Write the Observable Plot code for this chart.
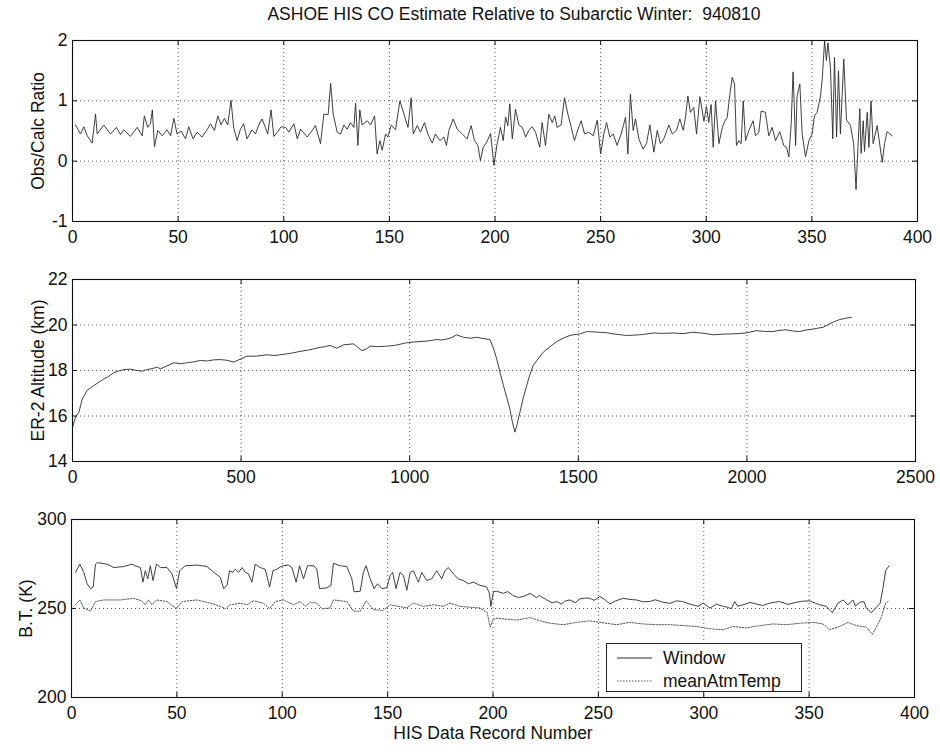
<!DOCTYPE html>
<html><head><meta charset="utf-8">
<script src="https://cdn.jsdelivr.net/npm/d3@7"></script>
<script src="https://cdn.jsdelivr.net/npm/@observablehq/plot@0.6"></script>
<style>
body{margin:0;background:#fff;}
#wrap{position:relative;width:940px;height:754px;font-family:"Liberation Sans",Arial,sans-serif;color:#111;overflow:hidden;}
#wrap svg{position:absolute;left:0;}
#title{position:absolute;top:4px;left:40px;width:948px;text-align:center;font-size:17.5px;white-space:pre;}
#legend{position:absolute;left:606px;top:643px;width:194px;height:47px;border:1px solid #222;background:#fff;font-size:17.5px;}
#legend .row{position:absolute;left:10px;height:20px;display:flex;align-items:center;}
#legend .row span{margin-left:11px;}
</style></head><body><div id="wrap"><div id="title">ASHOE HIS CO Estimate Relative to Subarctic Winter:  940810</div></div>
<script>
// ---------- data ----------
const titleText = "ASHOE HIS CO Estimate Relative to Subarctic Winter:  940810";
const ratioTicksX = [0,50,100,150,200,250,300,350,400];
const ratioTicksY = [-1,0,1,2];
const altTicksX = [0,500,1000,1500,2000,2500];
const altTicksY = [14,16,18,20,22];
const btTicksX = [0,50,100,150,200,250,300,350,400];
const btTicksY = [200,250,300];
const seriesNames = ["Window","meanAtmTemp"];

// [record, Obs/Calc ratio]
const ratioData = [[1.4,0.60],[3.8,0.45],[5.4,0.57],[7,0.42],[9.3,0.30],[10.9,0.78],[11.7,0.45],[14.8,0.60],[18,0.45],[20.8,0.56],[22.7,0.44],[24.3,0.52],[27.4,0.41],[30.6,0.56],[33,0.42],[34,0.75],[35.6,0.56],[36.9,0.62],[37.8,0.85],[38.8,0.24],[40.4,0.51],[42.4,0.42],[44.8,0.52],[46.4,0.42],[48,0.71],[49.5,0.45],[51.4,0.50],[53.5,0.37],[55,0.57],[57.1,0.37],[59,0.48],[61.3,0.40],[63.7,0.52],[65.3,0.62],[67.2,0.51],[68.8,0.75],[70.3,0.60],[71.9,0.71],[73.5,0.60],[75,1.01],[76.3,0.56],[77.9,0.34],[79.5,0.53],[81,0.62],[82.6,0.37],[85,0.52],[86.6,0.45],[88.2,0.60],[89.7,0.70],[91.3,0.56],[92.4,0.45],[94,0.85],[95.3,0.41],[97.2,0.49],[98.7,0.57],
[100.9,0.56],[102.4,0.48],[104.8,0.62],[106.4,0.37],[108,0.53],[111.1,0.40],[113.5,0.51],[115,0.59],[117.4,0.29],[119,0.78],[121,0.77],[122.2,1.29],[123.4,0.78],[125.3,0.48],[126.9,0.45],[128.5,0.60],[130,0.53],[131.6,0.64],[133.2,0.56],[134,0.96],[135.1,0.26],[136,0.85],[137.1,0.60],[139.5,0.67],[141.1,0.60],[143,0.75],[144.2,0.12],[145.5,0.34],[146.6,0.18],[148.2,0.45],[149.3,0.40],[150.9,0.60],[152.9,0.52],[155,1.00],[156.9,0.78],[158.8,0.56],[160.3,1.05],[161.3,0.45],[163.2,0.59],[164.7,0.48],[166.6,0.64],[168.2,0.45],[170.3,0.30],[171.8,0.45],[173.9,0.34],[175.8,0.40],[177,0.26],[178.2,0.51],[180.2,0.70],[182.1,0.53],[184.5,0.45],[186.8,0.37],[188.7,0.59],[190.3,0.34],[191.9,0.26],[193.1,0.01],[194.4,0.23],[196,0.31],[197.9,0.46],
[199.5,-0.07],[201,0.29],[202.6,0.56],[203.9,0.34],[205,0.73],[206.1,0.59],[207,0.95],[208.2,0.37],[209.7,0.86],[211.3,0.60],[212.9,0.56],[214.5,0.40],[216,0.51],[217.6,0.57],[219.2,0.48],[221.2,0.23],[222.3,0.64],[223.9,0.26],[225.5,0.78],[227.1,0.64],[228.3,0.75],[229.4,0.56],[231.3,0.60],[232.9,1.05],[234.5,0.78],[236.1,0.56],[237.6,0.34],[239.2,0.52],[240.8,0.67],[242.4,0.45],[244.4,0.48],[246.5,0.42],[248.4,0.68],[250,0.12],[251.5,0.45],[252.8,0.64],[254.4,0.40],[256,0.45],[257.8,0.26],[259.7,0.45],[261.8,0.73],[262.9,0.12],[264.1,1.11],[265.4,0.51],[266.5,0.70],[268.1,0.37],[270.1,0.20],[271.7,0.29],[273.3,0.60],[275.2,0.15],[276.8,0.51],[278.3,0.29],[279.9,0.37],[282.3,0.60],[283.9,0.45],[285.9,0.51],[287.5,0.70],[289.1,0.51],[290.2,0.73],[291.3,1.08],[292.5,0.81],[294.1,0.89],[295.4,0.45],[297,1.07],
[298.9,0.66],[300.1,0.91],[301.2,0.64],[302.3,0.94],[303.3,0.23],[304.4,1.00],[306,0.29],[307.6,0.56],[308.7,0.66],[309.9,0.72],[311.2,1.11],[312.3,1.39],[313.4,1.28],[314.3,0.26],[315.4,0.34],[316.5,0.29],[317.5,1.00],[318.6,0.34],[320.2,0.51],[322.2,0.67],[323.3,0.42],[324.9,0.48],[326,0.83],[328,0.81],[329.6,0.42],[331.2,0.56],[332.8,0.34],[334.8,0.49],[336.7,0.26],[338,0.23],[339.1,0.07],[340.2,0.62],[341.1,1.48],[342.3,0.26],[343,1.08],[344.3,1.28],[345.4,0.45],[347,0.07],[348.6,0.34],[350.1,0.45],[351.2,0.75],[352.5,0.81],[354.1,1.08],[354.9,1.36],[356,1.99],[356.9,1.67],[357.6,1.96],[358.8,1.55],[359.9,0.37],[360.7,1.72],[361.7,0.40],[362.6,1.50],[363.5,0.45],[365.1,1.69],[366.4,0.68],[368.3,0.59],[369.8,0.29],[370.9,-0.47],[371.9,0.29],[372.7,0.87],[373.3,0.13],[374.3,0.67],[374.9,0.16],[376.2,0.81],[377,0.23],[378,1.00],[379,0.29],[380.9,0.59],[383.3,-0.02],[384.4,0.29],[385.6,0.49],[388,0.42]];

// [record, ER-2 altitude km]
const altData = [[0,15.5],[9,15.95],[19,16.17],[29,16.75],[43,17.12],[63,17.34],[93,17.63],[105,17.72],[122,17.9],[137,17.98],[152,18.04],[170,18.06],[191,18.0],[206,17.97],[221,18.04],[236,18.08],[251,18.15],[261,18.07],[280,18.2],[300,18.34],[320,18.3],[340,18.34],[360,18.38],[379,18.44],[400,18.42],[420,18.47],[438,18.48],[458,18.45],[478,18.37],[498,18.5],[517,18.63],[545,18.63],[577,18.69],[600,18.66],[636,18.73],[655,18.78],[675,18.84],[700,18.9],[715,18.95],[735,19.02],[750,19.05],[764,19.1],[784,18.98],[804,19.13],[833,19.17],[858,18.88],[870,18.93],[883,19.07],[905,19.05],[932,19.07],[955,19.1],[991,19.22],[1010,19.25],[1031,19.27],[1055,19.3],[1080,19.36],[1095,19.34],[1110,19.38],[1125,19.45],[1139,19.57],[1159,19.46],[1180,19.42],[1199,19.46],[1220,19.4],[1238,19.36],[1248,19.0],[1258,18.51],[1268,17.9],[1278,17.34],[1288,16.8],[1297,16.31],[1305,15.7],[1312,15.29],[1318,15.6],[1327,16.17],[1337,16.8],[1347,17.34],[1356,17.8],[1366,18.22],[1380,18.5],[1396,18.8],[1416,19.05],[1436,19.27],[1455,19.42],[1475,19.54],[1490,19.58],[1505,19.61],[1525,19.71],[1540,19.7],[1564,19.68],[1585,19.66],[1603,19.61],[1620,19.58],[1643,19.54],[1660,19.55],[1682,19.57],[1700,19.6],[1722,19.65],[1750,19.63],[1781,19.65],[1810,19.62],[1840,19.68],[1870,19.64],[1900,19.57],[1930,19.6],[1959,19.61],[1980,19.63],[1998,19.65],[2028,19.75],[2050,19.72],[2077,19.71],[2095,19.76],[2117,19.79],[2135,19.74],[2156,19.71],[2175,19.78],[2196,19.82],[2210,19.86],[2226,19.9],[2245,20.05],[2260,20.15],[2275,20.24],[2295,20.3],[2310,20.34]];

// [record, Window B.T. K]
const windowData = [[1.9,270.3],[4,274.9],[5.8,270.3],[7.4,263.9],[9,261.2],[10.3,262.1],[11.4,274.9],[12.2,275.8],[16.9,274.9],[20.1,273],[24.8,273.6],[28.7,274.9],[30.3,274],[32.7,273],[33.9,264.8],[35,271.2],[36.2,266.7],[37.4,274],[38.7,265.7],[40.3,274.9],[42.2,273],[45.3,273],[47.7,269.4],[49.8,261.2],[51.3,271.2],[54,274],[59.5,274.4],[64.3,273.6],[67.5,270.3],[70.6,267.6],[72.2,261.2],[73.8,263],[75,271.2],[76.6,270.3],[77.7,272.1],[79.3,270.3],[80.9,273],[82.5,270.3],[84,269.4],[85.6,264.8],[87.2,274.9],[89.6,273],[91.9,272.1],[94,262.1],[95.6,271.2],[97.5,272.1],[99.4,273.6],[100.6,274],[103,274.4],[104.6,273],[106.6,264.8],[108.2,274],[110.1,266.7],[112,274],[114.9,274],[116.4,272.1],[117.7,261.2],[121.2,261.6],[123.1,263],[124.3,275.4],[127.5,274],[130.6,273.6],[133,266.7],[134.1,259.4],[137,259.7],[138.5,270.3],[139.8,274],[141.7,266.7],[143.6,261.2],[145.2,263.9],[147.2,261.2],[149.6,261.6],[151.2,268.5],[152.4,270.3],[154,261.2],[155.9,270.3],[157.5,268.5],[159.1,260.3],[160.7,270.3],[162.2,271.2],[164.6,264.8],[166.2,270.3],[168.6,265.7],[170.9,266.7],[173.3,271.2],[175.7,266.7],[177.2,271.2],[178.8,273],[181.2,269.4],[183.5,266.7],[185.9,265.7],[188.3,263.9],[190.7,264.8],[193.8,263],[197,262.1],[198.3,258.5],[199,251.2],[200.2,259.4],[201.8,259.7],[204.9,258.5],[207,259.5],[209.7,257.2],[212,256.2],[214.4,256.7],[217.6,258.5],[220.7,256.1],[222,257.3],[225.5,254.8],[228,253.2],[230.2,253.9],[232.6,252.5],[234,254.1],[236.5,254.8],[239,253.3],[241.3,255.4],[244,255.9],[246,255.7],[248,254.6],[250.7,256.7],[253,255.1],[255.5,252.5],[258,254.2],[261.8,255.7],[265,255.1],[268.1,254.8],[271,253.8],[274.4,253.9],[277,254.9],[280.7,253.5],[284,252.9],[287.1,254.3],[290,253.9],[293.4,252.5],[297.3,251.2],[299.7,253],[302.9,250.3],[306,252.4],[309.2,251.2],[311,250.8],[313.1,249.9],[314.7,253.9],[316,251.3],[318.7,252.1],[322,253.4],[325,252.5],[328,251.7],[331.3,253],[334,253.6],[336,253.9],[340,252.3],[343.9,253.5],[347,254.1],[350.3,254.3],[353,252.9],[355,252.1],[358.2,251.2],[361,247.6],[363.7,253],[366.1,254.8],[368.4,252.1],[370.8,254.8],[372,251.4],[374,253.5],[376,253.9],[377.1,250.3],[379.5,247.6],[381.9,250.7],[383.7,253],[385,261.2],[386.3,271.2],[387.9,274]];

// [record, meanAtmTemp B.T. K]
const meanAtmData = [[1.9,252.1],[4,254.8],[5.8,250.3],[9,248.5],[11.4,253.9],[15.3,254.8],[23.2,254.8],[29.5,255.7],[33.4,254.3],[35,252.1],[36.6,254.8],[38.2,252.1],[40.3,254.8],[45.3,253.9],[49.8,249.9],[52.4,253.9],[59.5,254.8],[65.8,253],[70.6,251.2],[73,249.9],[75.3,252.1],[80.1,253],[83.3,252.1],[86.4,254.3],[91.1,253],[94,249.9],[96.7,253.9],[100.6,254.8],[105.4,252.1],[108.5,253.9],[110.9,251.2],[113.3,253.5],[116.4,253],[118.8,249.9],[122.7,250.3],[124.3,254.8],[130.6,253.9],[133.8,248.5],[137,248.5],[139.8,254.3],[143.3,249.4],[148,248.9],[151.2,252.1],[155.1,251.2],[159.1,250.3],[162.2,253],[167,251.2],[171.7,252.1],[176.5,251.2],[179.6,253],[184.3,251.2],[189.1,250.7],[193.8,250.3],[197.3,247.6],[198.6,239.5],[200.2,244],[201.8,244.5],[206.5,244],[211.2,243.5],[217.6,244.9],[222.3,243.1],[227,241.7],[233.4,240.9],[239.7,242.2],[246,243.1],[250.7,242.2],[258.6,240.9],[265,242.2],[271.3,241.3],[277.6,240.9],[283.9,240.9],[290.2,240.4],[296.5,239.9],[302.9,238.6],[309.2,238.1],[313.9,239.9],[320.2,239.1],[326.6,240.4],[332.9,241.3],[339.2,240.9],[345.5,241.7],[351.8,242.2],[356.6,241.3],[359.7,238.1],[364.5,239.9],[368.4,242.2],[372.4,240.4],[377.1,239.5],[380,235.5],[381.9,239.5],[384.2,244.9],[386.3,253],[387.9,254.3]];

// ---------- drawing ----------
const FONT = "'Liberation Sans', Arial, sans-serif";
const FS = 17.5;
const INK = "#111";
const LINE = "#2a2a2a";
const wrap = document.getElementById("wrap");
document.getElementById("title").textContent = titleText;

const toObj = arr => arr.map(([x, y]) => ({x, y})).sort((a, b) => a.x - b.x);

function panel({top, height, mt, mb, ml, mr, xDomain, xTicks, yDomain, yTicks, ylabel, labelX = 38, lines, extra = []}) {
  const W = 940;
  const iw = W - ml - mr, ih = height - mt - mb;
  const grid = {stroke: "#444", strokeOpacity: 1, strokeWidth: 0.9, strokeDasharray: "1,3"};
  const tk = {stroke: INK, strokeWidth: 1};
  const svg = Plot.plot({
    width: W, height,
    marginTop: mt, marginBottom: mb, marginLeft: ml, marginRight: mr,
    x: {domain: xDomain},
    y: {domain: yDomain},
    style: {fontFamily: FONT, fontSize: FS + "px", color: INK, background: "transparent", overflow: "visible"},
    marks: [
      Plot.gridX(xTicks.slice(1, -1), grid),
      Plot.gridY(yTicks.slice(1, -1), grid),
      ...lines,
      Plot.frame({stroke: INK, strokeWidth: 1.1}),
      Plot.tickX(xTicks, {x: d => d, insetTop: ih - 5, ...tk}),
      Plot.tickX(xTicks, {x: d => d, insetBottom: ih - 5, ...tk}),
      Plot.tickY(yTicks, {y: d => d, insetRight: iw - 5, ...tk}),
      Plot.tickY(yTicks, {y: d => d, insetLeft: iw - 5, ...tk}),
      Plot.axisX(xTicks, {tickSize: 0, tickPadding: 9, fontSize: FS, tickFormat: d => String(d), fill: INK, label: null}),
      Plot.axisY(yTicks, {tickSize: 0, tickPadding: 5, fontSize: FS, tickFormat: d => String(d), fill: INK, label: null}),
      Plot.text([ylabel], {text: d => d, frameAnchor: "left", textAnchor: "middle", lineAnchor: "middle", dx: -(ml - labelX), rotate: -90, fontSize: FS, fill: INK}),
      ...extra
    ]
  });
  svg.style.top = top + "px";
  wrap.appendChild(svg);
}

panel({
  top: 0, height: 255, mt: 40, mb: 34, ml: 72, mr: 23,
  xDomain: [0, 400], xTicks: ratioTicksX, yDomain: [-1, 2], yTicks: ratioTicksY,
  ylabel: "Obs/Calc Ratio",
  lines: [Plot.line(toObj(ratioData), {x: "x", y: "y", stroke: LINE, strokeWidth: 0.9, clip: true})]
});

panel({
  top: 255, height: 240, mt: 24, mb: 34, ml: 72, mr: 25,
  xDomain: [0, 2500], xTicks: altTicksX, yDomain: [14, 22], yTicks: altTicksY,
  ylabel: "ER-2 Altitude (km)",
  lines: [Plot.line(toObj(altData), {x: "x", y: "y", stroke: LINE, strokeWidth: 0.9, clip: true})]
});

panel({
  top: 495, height: 259, mt: 24, mb: 57, ml: 71, mr: 26,
  xDomain: [0, 400], xTicks: btTicksX, yDomain: [200, 300], yTicks: btTicksY,
  ylabel: "B.T. (K)", labelX: 26,
  lines: [
    Plot.line(toObj(windowData), {x: "x", y: "y", stroke: LINE, strokeWidth: 0.9, clip: true}),
    Plot.line(toObj(meanAtmData), {x: "x", y: "y", stroke: "#555", strokeWidth: 1, strokeDasharray: "1.5,1.5", clip: true})
  ],
  extra: [Plot.text(["HIS Data Record Number"], {text: d => d, frameAnchor: "bottom", dy: 41, fontSize: FS, fill: INK})]
});

// legend (MATLAB-style boxed legend)
const leg = document.createElement("div");
leg.id = "legend";
const dashes = [null, "1.5,1.5"];
const strokes = [LINE, "#555"];
seriesNames.forEach((name, i) => {
  const row = document.createElement("div");
  row.className = "row";
  row.style.top = (4 + i * 23) + "px";
  const dash = dashes[i] ? ` stroke-dasharray="${dashes[i]}"` : "";
  row.innerHTML = `<svg width="35" height="4" style="position:static"><line x1="0" x2="35" y1="2" y2="2" stroke="${strokes[i]}" stroke-width="1"${dash}/></svg><span>${name}</span>`;
  leg.appendChild(row);
});
wrap.appendChild(leg);
</script></body></html>
